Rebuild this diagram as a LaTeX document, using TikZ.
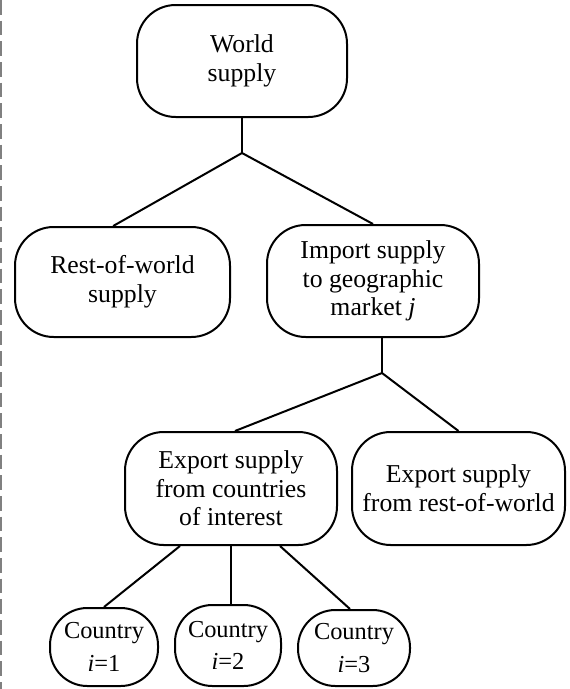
\documentclass[tikz,border=0pt]{standalone}
\usepackage{fontspec}
\setmainfont{Liberation Serif}
\begin{document}
\begin{tikzpicture}[x=0.75pt,y=-0.75pt,
  box/.style={draw=black, line width=1.5pt, rounded corners=29pt, align=center,
    inner sep=0pt, font=\fontsize{19.3pt}{21.5pt}\selectfont},
  ctry/.style={draw=black, line width=1.5pt, rounded corners=28pt, align=center,
    inner sep=0pt, font=\fontsize{18.3pt}{24.5pt}\selectfont},
  link/.style={line width=1.5pt}]
\useasboundingbox (0,0) rectangle (569,689);
\draw[gray, line width=1.2pt, dash pattern=on 11pt off 4.5pt] (1,0) -- (1,689);

\node[box, minimum width=157.5pt, minimum height=84pt] (world) at (242,61) {World\\supply};
\node[box, minimum width=161.25pt, minimum height=82.5pt] (row) at (122.5,282) {Rest-of-world\\supply};
\node[box, minimum width=159pt, minimum height=84pt] (imp) at (373,281) {Import supply\\to geographic\\market \textit{j}};
\node[box, minimum width=159pt, minimum height=84.75pt] (expc) at (231,488.5) {Export supply\\from countries\\of interest};
\node[box, minimum width=159.75pt, minimum height=84.75pt] (expr) at (458.5,488.5) {Export supply\\from rest-of-world};

\node[ctry, minimum width=81pt, minimum height=58.5pt] (c1) at (104,647) {Country\\\textit{i}=1};
\node[ctry, minimum width=79.5pt, minimum height=60.75pt] (c2) at (228,645.5) {Country\\\textit{i}=2};
\node[ctry, minimum width=84pt, minimum height=57pt] (c3) at (354,648) {Country\\\textit{i}=3};

\coordinate (j1) at (242,153);
\coordinate (j2) at (382,373);

\draw[link] (world.south) -- (j1);
\draw[link] (j1) -- ([xshift=-7pt]row.north);
\draw[link] (j1) -- (imp.north);
\draw[link] ([xshift=6.75pt]imp.south) -- (j2);
\draw[link] (j2) -- ([xshift=3pt]expc.north);
\draw[link] (j2) -- (expr.north);
\draw[link] ([xshift=-38.25pt]expc.south) -- (c1.north);
\draw[link] (expc.south) -- (expc.south |- c2.north);
\draw[link] ([xshift=36.75pt]expc.south) -- ([xshift=-3pt]c3.north);
\end{tikzpicture}
\end{document}
